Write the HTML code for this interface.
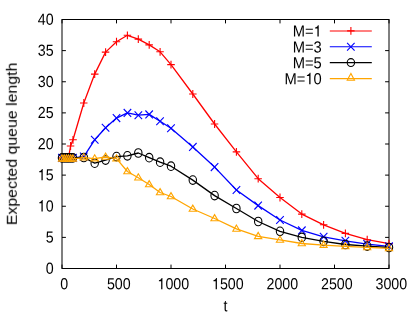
<!DOCTYPE html>
<html><head><meta charset="utf-8"><title>chart</title>
<style>
html,body{margin:0;padding:0;background:#fff;}
body{width:415px;height:319px;overflow:hidden;}
svg{display:block;}
text{font-family:"Liberation Sans",sans-serif;font-size:16px;fill:#000;}
</style></head><body>
<svg width="415" height="319" viewBox="0 0 415 319">
<rect width="415" height="319" fill="#fff"/>
<defs><filter id="sb" x="-5%" y="-5%" width="110%" height="110%"><feGaussianBlur stdDeviation="0.3"/></filter></defs>
<g stroke="#000" stroke-width="1" fill="none">
<path d="M62.00 268.50v-3.9M62.00 19.50v3.9"/>
<path d="M116.50 268.50v-3.9M116.50 19.50v3.9"/>
<path d="M171.00 268.50v-3.9M171.00 19.50v3.9"/>
<path d="M225.50 268.50v-3.9M225.50 19.50v3.9"/>
<path d="M280.00 268.50v-3.9M280.00 19.50v3.9"/>
<path d="M334.50 268.50v-3.9M334.50 19.50v3.9"/>
<path d="M389.00 268.50v-3.9M389.00 19.50v3.9"/>
<path d="M62.00 268.50h3.9M389.00 268.50h-3.9"/>
<path d="M62.00 237.38h3.9M389.00 237.38h-3.9"/>
<path d="M62.00 206.25h3.9M389.00 206.25h-3.9"/>
<path d="M62.00 175.12h3.9M389.00 175.12h-3.9"/>
<path d="M62.00 144.00h3.9M389.00 144.00h-3.9"/>
<path d="M62.00 112.88h3.9M389.00 112.88h-3.9"/>
<path d="M62.00 81.75h3.9M389.00 81.75h-3.9"/>
<path d="M62.00 50.62h3.9M389.00 50.62h-3.9"/>
<path d="M62.00 19.50h3.9M389.00 19.50h-3.9"/>
<rect x="62.00" y="19.50" width="327.00" height="249.00"/>
</g>
<g filter="url(#sb)">
<text transform="translate(45.68,273.70) scale(0.89,1) rotate(0.05)">0</text>
<text transform="translate(45.68,242.57) scale(0.89,1) rotate(0.05)">5</text>
<path transform="translate(37.77,211.45) scale(0.01424,-0.01600)" d="M259 0V505H102V566C190 578 262 622 292 709H347V0Z" fill="#000"/><text transform="translate(45.68,211.45) scale(0.89,1) rotate(0.05)">0</text>
<path transform="translate(37.77,180.32) scale(0.01424,-0.01600)" d="M259 0V505H102V566C190 578 262 622 292 709H347V0Z" fill="#000"/><text transform="translate(45.68,180.32) scale(0.89,1) rotate(0.05)">5</text>
<text transform="translate(37.77,149.20) scale(0.89,1) rotate(0.05)">20</text>
<text transform="translate(37.77,118.08) scale(0.89,1) rotate(0.05)">25</text>
<text transform="translate(37.77,86.95) scale(0.89,1) rotate(0.05)">30</text>
<text transform="translate(37.77,55.83) scale(0.89,1) rotate(0.05)">35</text>
<text transform="translate(37.77,24.70) scale(0.89,1) rotate(0.05)">40</text>
<text transform="translate(60.34,289.30) scale(0.89,1) rotate(0.05)">0</text>
<text transform="translate(106.92,289.30) scale(0.89,1) rotate(0.05)">500</text>
<path transform="translate(157.47,289.30) scale(0.01424,-0.01600)" d="M259 0V505H102V566C190 578 262 622 292 709H347V0Z" fill="#000"/><text transform="translate(165.38,289.30) scale(0.89,1) rotate(0.05)">000</text>
<path transform="translate(211.97,289.30) scale(0.01424,-0.01600)" d="M259 0V505H102V566C190 578 262 622 292 709H347V0Z" fill="#000"/><text transform="translate(219.88,289.30) scale(0.89,1) rotate(0.05)">500</text>
<text transform="translate(266.47,289.30) scale(0.89,1) rotate(0.05)">2000</text>
<text transform="translate(320.97,289.30) scale(0.89,1) rotate(0.05)">2500</text>
<text transform="translate(375.47,289.30) scale(0.89,1) rotate(0.05)">3000</text>
<text transform="translate(225.4,311.3) scale(0.89,1) rotate(0.05)" text-anchor="middle">t</text>
<text transform="translate(16.8,225.2) rotate(-90)" filter="url(#sb)" style="font-size:15.5px" textLength="162.5" lengthAdjust="spacingAndGlyphs">Expected queue length</text>
</g>
<g filter="url(#sb)"><text transform="translate(292.69,36.50) scale(0.92,1) rotate(0.05)">M=</text><path transform="translate(313.60,36.50) scale(0.01475,-0.01600)" d="M259 0V505H102V566C190 578 262 622 292 709H347V0Z" fill="#000"/></g>
<path d="M329.8 30.9 H371.8" stroke="#ff0000" stroke-width="1.05" fill="none"/>
<path d="M347.1 30.9H354.6M350.9 27.0V34.8" stroke="#ff0000" stroke-width="1.10" fill="none"/>
<g filter="url(#sb)"><text transform="translate(292.69,52.40) scale(0.92,1) rotate(0.05)">M=3</text></g>
<path d="M329.8 46.8 H371.8" stroke="#0000ff" stroke-width="1.05" fill="none"/>
<path d="M347.1 42.9L354.6 50.7M347.1 50.7L354.6 42.9" stroke="#0000ff" stroke-width="1.10" fill="none"/>
<g filter="url(#sb)"><text transform="translate(292.69,68.20) scale(0.92,1) rotate(0.05)">M=5</text></g>
<path d="M329.8 62.6 H371.8" stroke="#000000" stroke-width="1.05" fill="none"/>
<ellipse cx="350.9" cy="62.6" rx="3.7" ry="3.95" stroke="#000000" stroke-width="1.10" fill="none"/>
<g filter="url(#sb)"><text transform="translate(284.49,84.20) scale(0.92,1) rotate(0.05)">M=</text><path transform="translate(305.40,84.20) scale(0.01475,-0.01600)" d="M259 0V505H102V566C190 578 262 622 292 709H347V0Z" fill="#000"/><text transform="translate(313.60,84.20) scale(0.92,1) rotate(0.05)">0</text></g>
<path d="M329.8 78.6 H371.8" stroke="#ffa500" stroke-width="1.05" fill="none"/>
<path d="M350.9 73.4L347.2 80.2L354.5 80.2Z" stroke="#ffa500" stroke-width="1.10" fill="none"/>
<polyline fill="none" stroke="#ff0000" stroke-width="1.3" stroke-linejoin="round" points="62.0,157.9 64.2,157.9 66.4,157.9 68.5,157.9 70.6,146.0 73.0,139.8 83.8,103.0 94.7,74.1 105.6,52.1 116.5,41.7 127.4,35.3 138.3,39.1 149.2,44.9 160.1,51.8 171.0,64.6 192.8,94.0 214.6,124.0 236.4,151.9 258.2,178.7 280.0,197.5 301.8,214.1 323.6,224.8 345.4,233.4 367.2,239.7 389.0,243.6"/>
<path d="M58.2 157.9H65.8M62.0 154.0V161.8" stroke="#ff0000" stroke-width="1.10" fill="none"/>
<path d="M60.4 157.9H67.9M64.2 154.0V161.8" stroke="#ff0000" stroke-width="1.10" fill="none"/>
<path d="M62.6 157.9H70.1M66.4 154.0V161.8" stroke="#ff0000" stroke-width="1.10" fill="none"/>
<path d="M64.8 157.9H72.3M68.5 154.0V161.8" stroke="#ff0000" stroke-width="1.10" fill="none"/>
<path d="M66.8 146.0H74.3M70.6 142.1V149.9" stroke="#ff0000" stroke-width="1.10" fill="none"/>
<path d="M69.2 139.8H76.8M73.0 135.9V143.7" stroke="#ff0000" stroke-width="1.10" fill="none"/>
<path d="M80.0 103.0H87.5M83.8 99.1V106.9" stroke="#ff0000" stroke-width="1.10" fill="none"/>
<path d="M91.0 74.1H98.5M94.7 70.2V78.0" stroke="#ff0000" stroke-width="1.10" fill="none"/>
<path d="M101.8 52.1H109.3M105.6 48.2V56.0" stroke="#ff0000" stroke-width="1.10" fill="none"/>
<path d="M112.8 41.7H120.2M116.5 37.8V45.6" stroke="#ff0000" stroke-width="1.10" fill="none"/>
<path d="M123.7 35.3H131.2M127.4 31.4V39.2" stroke="#ff0000" stroke-width="1.10" fill="none"/>
<path d="M134.6 39.1H142.1M138.3 35.2V43.0" stroke="#ff0000" stroke-width="1.10" fill="none"/>
<path d="M145.4 44.9H152.9M149.2 41.0V48.8" stroke="#ff0000" stroke-width="1.10" fill="none"/>
<path d="M156.3 51.8H163.8M160.1 47.9V55.7" stroke="#ff0000" stroke-width="1.10" fill="none"/>
<path d="M167.2 64.6H174.8M171.0 60.7V68.5" stroke="#ff0000" stroke-width="1.10" fill="none"/>
<path d="M189.1 94.0H196.6M192.8 90.1V97.9" stroke="#ff0000" stroke-width="1.10" fill="none"/>
<path d="M210.8 124.0H218.3M214.6 120.1V127.9" stroke="#ff0000" stroke-width="1.10" fill="none"/>
<path d="M232.7 151.9H240.2M236.4 148.0V155.8" stroke="#ff0000" stroke-width="1.10" fill="none"/>
<path d="M254.4 178.7H261.9M258.2 174.8V182.6" stroke="#ff0000" stroke-width="1.10" fill="none"/>
<path d="M276.2 197.5H283.8M280.0 193.6V201.4" stroke="#ff0000" stroke-width="1.10" fill="none"/>
<path d="M298.1 214.1H305.6M301.8 210.2V218.0" stroke="#ff0000" stroke-width="1.10" fill="none"/>
<path d="M319.9 224.8H327.4M323.6 220.9V228.7" stroke="#ff0000" stroke-width="1.10" fill="none"/>
<path d="M341.6 233.4H349.1M345.4 229.5V237.3" stroke="#ff0000" stroke-width="1.10" fill="none"/>
<path d="M363.4 239.7H370.9M367.2 235.8V243.6" stroke="#ff0000" stroke-width="1.10" fill="none"/>
<path d="M385.2 243.6H392.8M389.0 239.7V247.5" stroke="#ff0000" stroke-width="1.10" fill="none"/>
<polyline fill="none" stroke="#0000ff" stroke-width="1.3" stroke-linejoin="round" points="62.0,157.9 64.2,157.9 66.4,157.9 68.5,157.9 70.7,157.9 72.9,157.9 83.8,156.6 94.7,139.8 105.6,127.7 116.5,118.1 127.4,112.9 138.3,115.2 149.2,114.4 160.1,121.3 171.0,128.3 192.8,146.9 214.6,167.1 236.4,190.0 258.2,205.6 280.0,220.0 301.8,230.4 323.6,236.8 345.4,240.8 367.2,244.1 389.0,246.4"/>
<path d="M58.2 154.0L65.8 161.8M58.2 161.8L65.8 154.0" stroke="#0000ff" stroke-width="1.10" fill="none"/>
<path d="M60.4 154.0L67.9 161.8M60.4 161.8L67.9 154.0" stroke="#0000ff" stroke-width="1.10" fill="none"/>
<path d="M62.6 154.0L70.1 161.8M62.6 161.8L70.1 154.0" stroke="#0000ff" stroke-width="1.10" fill="none"/>
<path d="M64.8 154.0L72.3 161.8M64.8 161.8L72.3 154.0" stroke="#0000ff" stroke-width="1.10" fill="none"/>
<path d="M67.0 154.0L74.5 161.8M67.0 161.8L74.5 154.0" stroke="#0000ff" stroke-width="1.10" fill="none"/>
<path d="M69.2 154.0L76.7 161.8M69.2 161.8L76.7 154.0" stroke="#0000ff" stroke-width="1.10" fill="none"/>
<path d="M80.0 152.7L87.5 160.5M80.0 160.5L87.5 152.7" stroke="#0000ff" stroke-width="1.10" fill="none"/>
<path d="M91.0 135.9L98.5 143.7M91.0 143.7L98.5 135.9" stroke="#0000ff" stroke-width="1.10" fill="none"/>
<path d="M101.8 123.8L109.3 131.6M101.8 131.6L109.3 123.8" stroke="#0000ff" stroke-width="1.10" fill="none"/>
<path d="M112.8 114.2L120.2 122.0M112.8 122.0L120.2 114.2" stroke="#0000ff" stroke-width="1.10" fill="none"/>
<path d="M123.7 109.0L131.2 116.8M123.7 116.8L131.2 109.0" stroke="#0000ff" stroke-width="1.10" fill="none"/>
<path d="M134.6 111.3L142.1 119.1M134.6 119.1L142.1 111.3" stroke="#0000ff" stroke-width="1.10" fill="none"/>
<path d="M145.4 110.5L152.9 118.3M145.4 118.3L152.9 110.5" stroke="#0000ff" stroke-width="1.10" fill="none"/>
<path d="M156.3 117.4L163.8 125.2M156.3 125.2L163.8 117.4" stroke="#0000ff" stroke-width="1.10" fill="none"/>
<path d="M167.2 124.4L174.8 132.2M167.2 132.2L174.8 124.4" stroke="#0000ff" stroke-width="1.10" fill="none"/>
<path d="M189.1 143.0L196.6 150.8M189.1 150.8L196.6 143.0" stroke="#0000ff" stroke-width="1.10" fill="none"/>
<path d="M210.8 163.2L218.3 171.0M210.8 171.0L218.3 163.2" stroke="#0000ff" stroke-width="1.10" fill="none"/>
<path d="M232.7 186.1L240.2 193.9M232.7 193.9L240.2 186.1" stroke="#0000ff" stroke-width="1.10" fill="none"/>
<path d="M254.4 201.7L261.9 209.5M254.4 209.5L261.9 201.7" stroke="#0000ff" stroke-width="1.10" fill="none"/>
<path d="M276.2 216.1L283.8 223.9M276.2 223.9L283.8 216.1" stroke="#0000ff" stroke-width="1.10" fill="none"/>
<path d="M298.1 226.5L305.6 234.3M298.1 234.3L305.6 226.5" stroke="#0000ff" stroke-width="1.10" fill="none"/>
<path d="M319.9 232.9L327.4 240.7M319.9 240.7L327.4 232.9" stroke="#0000ff" stroke-width="1.10" fill="none"/>
<path d="M341.6 236.9L349.1 244.7M341.6 244.7L349.1 236.9" stroke="#0000ff" stroke-width="1.10" fill="none"/>
<path d="M363.4 240.2L370.9 248.0M363.4 248.0L370.9 240.2" stroke="#0000ff" stroke-width="1.10" fill="none"/>
<path d="M385.2 242.5L392.8 250.3M385.2 250.3L392.8 242.5" stroke="#0000ff" stroke-width="1.10" fill="none"/>
<polyline fill="none" stroke="#000000" stroke-width="1.3" stroke-linejoin="round" points="62.0,157.9 64.2,157.9 66.4,157.9 68.5,157.9 70.7,157.9 72.9,157.9 83.8,157.5 94.7,163.2 105.6,160.1 116.5,156.6 127.4,155.8 138.3,153.0 149.2,157.7 160.1,162.2 171.0,166.2 192.8,180.1 214.6,195.6 236.4,208.5 258.2,221.5 280.0,231.3 301.8,237.4 323.6,241.3 345.4,244.5 367.2,246.1 389.0,247.5"/>
<ellipse cx="62.0" cy="157.9" rx="3.7" ry="4.30" stroke="#000000" stroke-width="1.10" fill="none"/>
<ellipse cx="64.2" cy="157.9" rx="3.7" ry="4.30" stroke="#000000" stroke-width="1.10" fill="none"/>
<ellipse cx="66.4" cy="157.9" rx="3.7" ry="4.30" stroke="#000000" stroke-width="1.10" fill="none"/>
<ellipse cx="68.5" cy="157.9" rx="3.7" ry="4.30" stroke="#000000" stroke-width="1.10" fill="none"/>
<ellipse cx="70.7" cy="157.9" rx="3.7" ry="4.30" stroke="#000000" stroke-width="1.10" fill="none"/>
<ellipse cx="72.9" cy="157.9" rx="3.7" ry="4.30" stroke="#000000" stroke-width="1.10" fill="none"/>
<ellipse cx="83.8" cy="157.5" rx="3.7" ry="4.30" stroke="#000000" stroke-width="1.10" fill="none"/>
<ellipse cx="94.7" cy="163.2" rx="3.7" ry="4.30" stroke="#000000" stroke-width="1.10" fill="none"/>
<ellipse cx="105.6" cy="160.1" rx="3.7" ry="4.30" stroke="#000000" stroke-width="1.10" fill="none"/>
<ellipse cx="116.5" cy="156.6" rx="3.7" ry="4.30" stroke="#000000" stroke-width="1.10" fill="none"/>
<ellipse cx="127.4" cy="155.8" rx="3.7" ry="4.30" stroke="#000000" stroke-width="1.10" fill="none"/>
<ellipse cx="138.3" cy="153.0" rx="3.7" ry="4.30" stroke="#000000" stroke-width="1.10" fill="none"/>
<ellipse cx="149.2" cy="157.7" rx="3.7" ry="4.30" stroke="#000000" stroke-width="1.10" fill="none"/>
<ellipse cx="160.1" cy="162.2" rx="3.7" ry="4.30" stroke="#000000" stroke-width="1.10" fill="none"/>
<ellipse cx="171.0" cy="166.2" rx="3.7" ry="4.30" stroke="#000000" stroke-width="1.10" fill="none"/>
<ellipse cx="192.8" cy="180.1" rx="3.7" ry="4.30" stroke="#000000" stroke-width="1.10" fill="none"/>
<ellipse cx="214.6" cy="195.6" rx="3.7" ry="4.30" stroke="#000000" stroke-width="1.10" fill="none"/>
<ellipse cx="236.4" cy="208.5" rx="3.7" ry="4.30" stroke="#000000" stroke-width="1.10" fill="none"/>
<ellipse cx="258.2" cy="221.5" rx="3.7" ry="4.30" stroke="#000000" stroke-width="1.10" fill="none"/>
<ellipse cx="280.0" cy="231.3" rx="3.7" ry="4.30" stroke="#000000" stroke-width="1.10" fill="none"/>
<ellipse cx="301.8" cy="237.4" rx="3.7" ry="4.30" stroke="#000000" stroke-width="1.10" fill="none"/>
<ellipse cx="323.6" cy="241.3" rx="3.7" ry="4.30" stroke="#000000" stroke-width="1.10" fill="none"/>
<ellipse cx="345.4" cy="244.5" rx="3.7" ry="4.30" stroke="#000000" stroke-width="1.10" fill="none"/>
<ellipse cx="367.2" cy="246.1" rx="3.7" ry="4.30" stroke="#000000" stroke-width="1.10" fill="none"/>
<ellipse cx="389.0" cy="247.5" rx="3.7" ry="4.30" stroke="#000000" stroke-width="1.10" fill="none"/>
<polyline fill="none" stroke="#ffa500" stroke-width="1.3" stroke-linejoin="round" points="62.0,158.8 64.2,158.8 66.4,158.8 68.5,158.8 70.7,158.8 72.9,158.8 83.8,157.6 94.7,158.6 105.6,157.0 116.5,158.7 127.4,171.5 138.3,177.7 149.2,184.5 160.1,192.5 171.0,196.5 192.8,209.0 214.6,218.5 236.4,228.9 258.2,236.3 280.0,239.9 301.8,243.5 323.6,245.1 345.4,246.4 367.2,247.4 389.0,248.4"/>
<path d="M62.0 154.9L58.4 161.1L65.7 161.1Z" stroke="#ffa500" stroke-width="1.10" fill="none"/>
<path d="M64.2 154.9L60.5 161.1L67.8 161.1Z" stroke="#ffa500" stroke-width="1.10" fill="none"/>
<path d="M66.4 154.9L62.7 161.1L70.0 161.1Z" stroke="#ffa500" stroke-width="1.10" fill="none"/>
<path d="M68.5 154.9L64.9 161.1L72.2 161.1Z" stroke="#ffa500" stroke-width="1.10" fill="none"/>
<path d="M70.7 154.9L67.1 161.1L74.4 161.1Z" stroke="#ffa500" stroke-width="1.10" fill="none"/>
<path d="M72.9 154.9L69.2 161.1L76.6 161.1Z" stroke="#ffa500" stroke-width="1.10" fill="none"/>
<path d="M83.8 153.7L80.1 159.9L87.5 159.9Z" stroke="#ffa500" stroke-width="1.10" fill="none"/>
<path d="M94.7 154.7L91.0 160.9L98.4 160.9Z" stroke="#ffa500" stroke-width="1.10" fill="none"/>
<path d="M105.6 153.1L101.9 159.3L109.2 159.3Z" stroke="#ffa500" stroke-width="1.10" fill="none"/>
<path d="M116.5 154.8L112.8 161.0L120.2 161.0Z" stroke="#ffa500" stroke-width="1.10" fill="none"/>
<path d="M127.4 167.6L123.8 173.8L131.1 173.8Z" stroke="#ffa500" stroke-width="1.10" fill="none"/>
<path d="M138.3 173.8L134.7 180.0L142.0 180.0Z" stroke="#ffa500" stroke-width="1.10" fill="none"/>
<path d="M149.2 180.6L145.5 186.8L152.8 186.8Z" stroke="#ffa500" stroke-width="1.10" fill="none"/>
<path d="M160.1 188.6L156.4 194.8L163.8 194.8Z" stroke="#ffa500" stroke-width="1.10" fill="none"/>
<path d="M171.0 192.6L167.3 198.8L174.7 198.8Z" stroke="#ffa500" stroke-width="1.10" fill="none"/>
<path d="M192.8 205.1L189.2 211.3L196.5 211.3Z" stroke="#ffa500" stroke-width="1.10" fill="none"/>
<path d="M214.6 214.6L210.9 220.8L218.2 220.8Z" stroke="#ffa500" stroke-width="1.10" fill="none"/>
<path d="M236.4 225.0L232.8 231.2L240.1 231.2Z" stroke="#ffa500" stroke-width="1.10" fill="none"/>
<path d="M258.2 232.4L254.5 238.6L261.8 238.6Z" stroke="#ffa500" stroke-width="1.10" fill="none"/>
<path d="M280.0 236.0L276.4 242.2L283.6 242.2Z" stroke="#ffa500" stroke-width="1.10" fill="none"/>
<path d="M301.8 239.6L298.2 245.8L305.4 245.8Z" stroke="#ffa500" stroke-width="1.10" fill="none"/>
<path d="M323.6 241.2L320.0 247.4L327.2 247.4Z" stroke="#ffa500" stroke-width="1.10" fill="none"/>
<path d="M345.4 242.5L341.8 248.7L349.0 248.7Z" stroke="#ffa500" stroke-width="1.10" fill="none"/>
<path d="M367.2 243.5L363.6 249.7L370.8 249.7Z" stroke="#ffa500" stroke-width="1.10" fill="none"/>
<path d="M389.0 244.5L385.4 250.7L392.6 250.7Z" stroke="#ffa500" stroke-width="1.10" fill="none"/>
</svg></body></html>
